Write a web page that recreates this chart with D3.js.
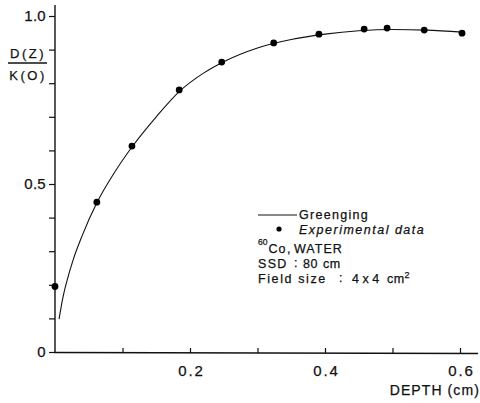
<!DOCTYPE html>
<html>
<head>
<meta charset="utf-8">
<script src="https://cdn.jsdelivr.net/npm/d3@7"></script>
<style>
  html, body { margin: 0; padding: 0; background: #fff; }
  svg { display: block; }
  text { font-family: "Liberation Sans", Arial, sans-serif; fill: #111; stroke: #111; stroke-width: 0.25px; }
</style>
</head>
<body>
<svg id="chart" width="480" height="403"></svg>
<script>
// ---- data ----
const expDepth = [0.0, 0.062, 0.114, 0.184, 0.247, 0.324, 0.391, 0.458, 0.492, 0.547, 0.603];
const expDose  = [0.195, 0.446, 0.613, 0.780, 0.863, 0.920, 0.946, 0.961, 0.964, 0.958, 0.949];

const curveDepth = [0.006, 0.012, 0.018, 0.027, 0.040, 0.062, 0.090, 0.114, 0.150, 0.184, 0.220, 0.250, 0.300, 0.350, 0.400, 0.450, 0.500, 0.550, 0.603];
const curveDose  = [0.098, 0.165, 0.214, 0.275, 0.345, 0.444, 0.540, 0.610, 0.700, 0.775, 0.830, 0.864, 0.905, 0.930, 0.946, 0.956, 0.960, 0.958, 0.952];

const xTicks = [0.1, 0.2, 0.3, 0.4, 0.5, 0.6];
const xTickLabels = {0.2: "0.2", 0.4: "0.4", 0.6: "0.6"};
const yTicks = [0, 0.1, 0.2, 0.3, 0.4, 0.5, 0.6, 0.7, 0.8, 0.9, 1.0];
const yTickLabels = {0: "0", 0.5: "0.5", 1: "1.0"};

const legendLines = ["Greenging", "Experimental data"];

// ---- scales ----
const svg = d3.select("#chart");
const x = d3.scaleLinear().domain([0, 0.6]).range([55, 460]);
const y = d3.scaleLinear().domain([0, 1]).range([352, 16]);

// axes lines
svg.append("line").attr("x1", 55).attr("x2", 55).attr("y1", 352.5).attr("y2", 5)
  .attr("stroke", "#111").attr("stroke-width", 1.4);
svg.append("line").attr("x1", 54.3).attr("x2", 478).attr("y1", 352.5).attr("y2", 353.5)
  .attr("stroke", "#111").attr("stroke-width", 1.4);

// y axis
const yAxis = d3.axisLeft(y).tickValues(yTicks).tickSize(6).tickPadding(3)
  .tickFormat(d => yTickLabels[Math.round(d * 10) / 10] || "");
const gy = svg.append("g").attr("transform", "translate(55,0)").call(yAxis);
gy.select(".domain").remove();
gy.selectAll(".tick line").attr("stroke", "#111").attr("stroke-width", 1.2);
gy.selectAll(".tick text").style("font-size", "15px").attr("fill", "#111")
  .style("letter-spacing", "0.3px")
  .style("font-family", "'Liberation Sans', Arial, sans-serif");

// x axis (ticks pointing up)
const xAxis = d3.axisBottom(x).tickValues(xTicks).tickSizeInner(-5).tickSizeOuter(0).tickPadding(12)
  .tickFormat(d => xTickLabels[Math.round(d * 10) / 10] || "");
const gx = svg.append("g").attr("transform", "translate(0,353)").call(xAxis);
gx.select(".domain").remove();
gx.selectAll(".tick line").attr("stroke", "#111").attr("stroke-width", 1.2);
gx.selectAll(".tick text").style("font-size", "15px").attr("fill", "#111")
  .style("letter-spacing", "1.8px").attr("dx", "0.9px")
  .style("font-family", "'Liberation Sans', Arial, sans-serif");

// axis titles
svg.append("text").attr("x", 480).attr("y", 395).attr("text-anchor", "end")
  .style("font-size", "14px").style("letter-spacing", "1.1px").text("DEPTH (cm)");
svg.append("text").attr("x", 28).attr("y", 58).attr("text-anchor", "middle")
  .style("font-size", "13px").style("letter-spacing", "2.5px").text("D(Z)");
svg.append("line").attr("x1", 8).attr("x2", 47).attr("y1", 63).attr("y2", 63)
  .attr("stroke", "#111").attr("stroke-width", 1.4);
svg.append("text").attr("x", 28).attr("y", 80).attr("text-anchor", "middle")
  .style("font-size", "13px").style("letter-spacing", "2.5px").text("K(O)");

// curve
const curveData = curveDepth.map((d, i) => [d, curveDose[i]]);
svg.append("path").datum(curveData)
  .attr("fill", "none").attr("stroke", "#111").attr("stroke-width", 1.1)
  .attr("d", d3.line().x(d => x(d[0])).y(d => y(d[1])).curve(d3.curveMonotoneX));

// experimental points
svg.append("g").selectAll("circle").data(expDepth.map((d, i) => [d, expDose[i]]))
  .join("circle").attr("cx", d => x(d[0])).attr("cy", d => y(d[1])).attr("r", 3.4)
  .attr("fill", "#000");

// legend
const fsz = "12.5px";
svg.append("line").attr("x1", 258).attr("x2", 297).attr("y1", 215).attr("y2", 215)
  .attr("stroke", "#111").attr("stroke-width", 1);
svg.append("text").attr("x", 299).attr("y", 219).style("font-size", fsz)
  .style("letter-spacing", "1.3px").text(legendLines[0]);
svg.append("circle").attr("cx", 279).attr("cy", 229).attr("r", 2.6).attr("fill", "#000");
svg.append("text").attr("x", 299).attr("y", 234).style("font-size", fsz)
  .style("font-style", "italic").style("letter-spacing", "1.5px").text(legendLines[1]);

// 60Co , WATER
svg.append("text").attr("x", 258).attr("y", 245).style("font-size", "8.5px")
  .text("60");
svg.append("text").attr("x", 268.5).attr("y", 253).style("font-size", fsz)
  .style("letter-spacing", "1px").text("Co");
svg.append("text").attr("x", 287).attr("y", 253).style("font-size", fsz).text(",");
svg.append("text").attr("x", 294).attr("y", 253).style("font-size", fsz)
  .style("letter-spacing", "1px").text("WATER");

// SSD : 80 cm
svg.append("text").attr("x", 258).attr("y", 268).style("font-size", fsz)
  .style("letter-spacing", "1.3px").text("SSD");
svg.append("text").attr("x", 294).attr("y", 267).style("font-size", fsz).text(":");
svg.append("text").attr("x", 303).attr("y", 268).style("font-size", fsz)
  .style("letter-spacing", "0.6px").text("80");
svg.append("text").attr("x", 323).attr("y", 268).style("font-size", fsz)
  .style("letter-spacing", "0.4px").text("cm");

// Field size : 4x4 cm2
svg.append("text").attr("x", 258).attr("y", 283).style("font-size", fsz)
  .style("letter-spacing", "1.6px").text("Field size");
svg.append("text").attr("x", 339).attr("y", 282).style("font-size", fsz).text(":");
svg.append("text").attr("x", 352).attr("y", 283).style("font-size", fsz)
  .style("letter-spacing", "3.5px").text("4x4");
const cm2 = svg.append("text").attr("x", 387).attr("y", 283).style("font-size", fsz)
  .style("letter-spacing", "0.4px");
cm2.append("tspan").text("cm");
cm2.append("tspan").attr("dy", "-5").style("font-size", "9px").text("2");
</script>
</body>
</html>
